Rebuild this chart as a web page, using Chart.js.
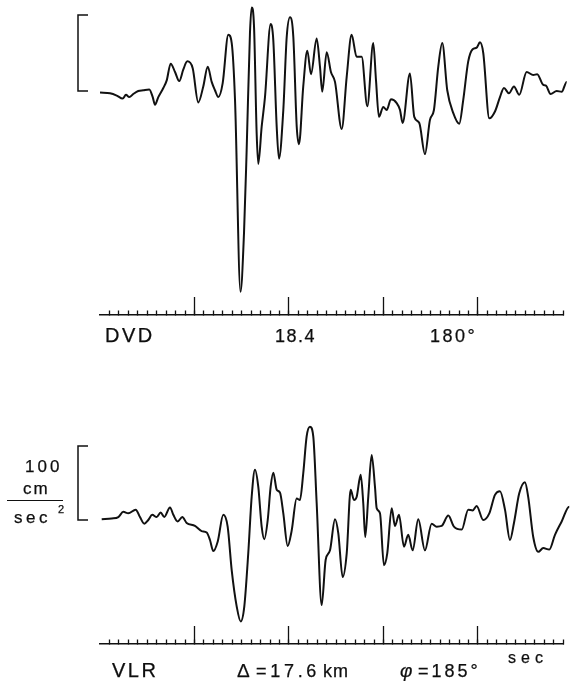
<!DOCTYPE html>
<html><head><meta charset="utf-8">
<script src="https://cdn.jsdelivr.net/npm/chart.js@4/dist/chart.umd.min.js"></script>
<style>
html,body{margin:0;padding:0;background:#fff;}
#wrap{position:relative;width:572px;height:681px;overflow:hidden;background:#fff;}
canvas{position:absolute;left:0;top:0;}
.t{position:absolute;white-space:nowrap;font-family:"Liberation Sans",Arial,sans-serif;color:#0e0e0e;line-height:1;-webkit-text-stroke:0.25px #0e0e0e;}
</style></head><body>
<div id="wrap"><canvas id="c" width="572" height="681"></canvas></div>
<script>
// ---- data (time in sec, acceleration in cm/sec^2) ----
const timeTop = [0,0.106,0.177,0.240,0.275,0.310,0.352,0.405,0.458,0.522,
 0.558,0.582,0.617,0.670,0.706,0.748,0.794,0.839,0.881,0.924,
 0.981,1.040,1.093,1.140,1.182,1.217,1.252,1.298,1.358,1.394,
 1.429,1.487,1.524,1.552,1.587,1.605,1.630,1.658,1.675,1.711,
 1.746,1.806,1.834,1.870,1.894,1.940,1.976,2.011,2.046,2.082,
 2.106,2.151,2.194,2.233,2.293,2.328,2.352,2.399,2.444,2.487,
 2.558,2.611,2.663,2.716,2.769,2.829,2.892,2.921,2.952,2.998,
 3.034,3.079,3.140,3.175,3.203,3.280,3.326,3.379,3.439,3.492,
 3.534,3.580,3.622,3.675,3.739,3.802,3.844,3.897,3.944,3.986,
 4.021,4.056,4.120,4.180,4.233,4.275,4.328,4.381,4.437,4.515,
 4.585,4.627,4.691,4.720,4.769,4.833,4.886,4.939,4.974];
const accTop = [-2,-3,-6,-10,-5,-8,-4,0,1,2,
 -8,-18,-8,4,14,36,25,13,28,39,
 30,-15,6,32,12,1,-8,10,74,63,
 -12,-264,-187,-78,76,110,85,-56,-96,-47,
 -8,88,67,-47,-89,-25,71,97,71,-47,
 -70,6,53,22,69,32,-1,51,25,12,
 -50,19,74,45,45,-20,63,14,-34,-21,
 -25,-11,-16,-25,-42,23,-34,-42,-83,-38,
 -25,32,63,1,-29,-43,-12,39,55,57,
 64,50,-36,-27,-8,4,-3,6,-5,25,
 21,22,8,7,-4,0,-1,12,5];
const timeBottom = [0.018,0.124,0.194,0.247,0.299,0.378,0.423,0.469,0.511,0.553,
 0.600,0.642,0.680,0.741,0.776,0.822,0.871,0.917,1.005,1.076,
 1.129,1.164,1.199,1.246,1.305,1.351,1.394,1.447,1.489,1.527,
 1.569,1.605,1.640,1.675,1.711,1.739,1.775,1.806,1.834,1.870,
 1.905,1.940,1.986,2.029,2.081,2.116,2.151,2.187,2.222,2.257,
 2.293,2.346,2.388,2.434,2.487,2.522,2.568,2.611,2.653,2.688,
 2.716,2.759,2.786,2.807,2.839,2.875,2.910,2.928,2.963,3.005,
 3.040,3.087,3.122,3.164,3.217,3.262,3.309,3.368,3.439,3.510,
 3.563,3.616,3.686,3.746,3.828,3.897,3.944,3.986,4.056,4.120,
 4.180,4.233,4.286,4.339,4.381,4.437,4.497,4.532,4.585,4.638,
 4.691,4.755,4.815,4.886,4.966,4.995];
const accBottom = [1,2,4,11,9,14,4,-5,0,7,
 4,10,4,17,7,-2,4,-4,-8,-15,
 -17,-27,-42,-29,7,-9,-68,-117,-137,-117,
 -45,31,68,45,-9,-26,0,45,64,41,
 37,9,-35,-14,29,27,63,113,126,113,
 23,-115,-54,-41,1,-18,-77,-45,41,27,
 31,61,23,-23,31,88,45,16,9,-61,
 -45,16,-8,7,-36,-20,-41,1,-41,-5,
 -9,-8,6,-9,-13,14,13,19,0,9,
 34,39,14,-27,-4,36,51,31,-23,-43,
 -38,-40,-20,-2,18,7];
const minorTicks = [0.1,0.2,0.3,0.4,0.5,0.6,0.7,0.8,0.9,1.0,1.1,1.2,1.3,1.4,1.5,1.6,1.7,1.8,1.9,2.0,
 2.1,2.2,2.3,2.4,2.5,2.6,2.7,2.8,2.9,3.0,3.1,3.2,3.3,3.4,3.5,3.6,3.7,3.8,3.9,4.0,
 4.1,4.2,4.3,4.4,4.5,4.6,4.7,4.8,4.9];
const majorTicks = [1,2,3,4];
const timeMax = 4.9;
const scaleBar = [0, 100]; // cm/sec^2
const topLabels = ["DVD","18.4","180°"];
const bottomLabels = ["VLR","Δ","=17.6","km","φ","=185°","sec"];
const unitLabels = ["100","cm","sec","2"];

// ---- layout (pixels) ----
const H = 681;
const TOP = {zero:91, ppu:0.76, axis:315};
const BOT = {zero:520, ppu:0.74, axis:644};
function yRange(p){ const max = p.zero/p.ppu; return {min: max - H/p.ppu, max: max}; }
function axisVal(p){ return (p.zero - p.axis)/p.ppu; }
const INK = '#111111';

function tickAxis(yId, p, ticks, len, border){
  return {type:'linear', axis:'x', min:0, max:timeMax, position:{[yId]: axisVal(p)},
    afterBuildTicks: s => { s.ticks = ticks.map(v => ({value:v})); },
    ticks:{display:false, autoSkip:false},
    grid:{display:true, drawOnChartArea:false, drawTicks:true, tickLength:len, tickWidth:1.3, tickColor:INK},
    border:{display:border, color:INK, width:1.5}};
}

const bracketPlugin = {
  id:'bracket',
  afterDatasetsDraw(chart){
    const ctx = chart.ctx;
    ctx.save();
    ctx.strokeStyle = INK; ctx.lineWidth = 1.5;
    for (const id of ['y1','y2']) {
      const s = chart.scales[id];
      const a = s.getPixelForValue(scaleBar[1]), b = s.getPixelForValue(scaleBar[0]);
      ctx.beginPath(); ctx.moveTo(88, a); ctx.lineTo(78, a); ctx.lineTo(78, b); ctx.lineTo(88, b); ctx.stroke();
    }
    ctx.restore();
  }
};

const r1 = yRange(TOP), r2 = yRange(BOT);
new Chart(document.getElementById('c'), {
  type:'line',
  data:{datasets:[
    {data: timeTop.map((t,i)=>({x:t,y:accTop[i]})), xAxisID:'x', yAxisID:'y1', borderColor:INK, borderWidth:2,
     pointRadius:0, cubicInterpolationMode:'monotone', clip:false, fill:false},
    {data: timeBottom.map((t,i)=>({x:t,y:accBottom[i]})), xAxisID:'x', yAxisID:'y2', borderColor:INK, borderWidth:2,
     pointRadius:0, cubicInterpolationMode:'monotone', clip:false, fill:false}
  ]},
  options:{
    responsive:false, animation:false, devicePixelRatio:1,
    layout:{padding:{left:100, right:9, top:0, bottom:0}},
    plugins:{legend:{display:false}, tooltip:{enabled:false}},
    scales:{
      x:{type:'linear', min:0, max:timeMax, display:false},
      y1:{type:'linear', min:r1.min, max:r1.max, display:false},
      y2:{type:'linear', min:r2.min, max:r2.max, display:false},
      xTopMinor: tickAxis('y1', TOP, minorTicks, -5, true),
      xTopMajor: tickAxis('y1', TOP, majorTicks, -18, false),
      xBotMinor: tickAxis('y2', BOT, minorTicks, -5, true),
      xBotMajor: tickAxis('y2', BOT, majorTicks, -18, false)
    }
  },
  plugins:[bracketPlugin]
});

// ---- text ----
const wrap = document.getElementById('wrap');
function place(text, left, baseline, fs, ls, extra){
  const d = document.createElement('div');
  d.className = 't';
  d.textContent = text;
  d.style.left = left + 'px';
  d.style.top = (baseline - 0.8465*fs) + 'px';
  d.style.fontSize = fs + 'px';
  d.style.letterSpacing = ls + 'px';
  if (extra) Object.assign(d.style, extra);
  wrap.appendChild(d);
}
place(topLabels[0], 105, 342, 20, 2.5);
place(topLabels[1], 275, 342, 18, 1.5);
place(topLabels[2], 430, 342, 18, 2.5);
place(bottomLabels[0], 112, 677, 20, 2.5);
place(bottomLabels[1], 237, 677, 19, 0);
place(bottomLabels[2], 256, 677, 18, 3.7);
place(bottomLabels[3], 323, 677, 18, 1);
place(bottomLabels[4], 400, 677, 19, 0, {fontStyle:'italic'});
place(bottomLabels[5], 418, 677, 18, 3);
place(bottomLabels[6], 508, 664, 16, 5);
place(unitLabels[0], 25, 472, 17, 3);
place(unitLabels[1], 23, 494, 17, 2);
place(unitLabels[2], 14, 523, 17, 3.5);
place(unitLabels[3], 58, 513, 11, 0);
const bar = document.createElement('div');
bar.style.cssText = 'position:absolute;left:7px;top:499.5px;width:56px;height:1.2px;background:#111111;';
wrap.appendChild(bar);
</script>
</body></html>
